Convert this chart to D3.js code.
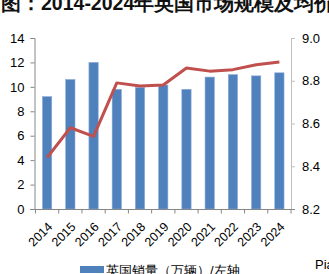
<!DOCTYPE html>
<html><head><meta charset="utf-8">
<script src="https://cdn.jsdelivr.net/npm/d3@7"></script>
<style>
html,body{margin:0;padding:0;background:#fff;overflow:hidden;}
svg{display:block;}
text{font-family:"Liberation Sans",Arial,sans-serif;}
</style></head>
<body>
<script>
const years = ["2014","2015","2016","2017","2018","2019","2020","2021","2022","2023","2024"];
const sales = [9.2, 10.6, 12.0, 9.8, 9.95, 10.15, 9.8, 10.8, 11.0, 10.9, 11.15];
const price = [8.44, 8.58, 8.54, 8.79, 8.775, 8.78, 8.86, 8.845, 8.852, 8.875, 8.888];
const leftTicks = [0,2,4,6,8,10,12,14];
const rightTicks = [8.2,8.4,8.6,8.8,9.0];
const title = "图：2014-2024年英国市场规模及均价";
const legendLabel = "英国销量（万辆）/左轴";
const sourceText = "Pia";

const W = 329, H = 274;
const svg = d3.select("body").append("svg").attr("width", W).attr("height", H);

const x = d3.scaleBand().domain(years).range([35.5, 291]).paddingInner(0).paddingOuter(0);
const yL = d3.scaleLinear().domain([0,14]).range([209, 38]);
const yR = d3.scaleLinear().domain([8.2,9.0]).range([209, 38]);

// title
svg.append("text").attr("x", 1).attr("y", 10).attr("font-size", 19.5).attr("font-weight", "bold")
  .attr("font-family", "'Noto Sans CJK SC', sans-serif").attr("fill", "#111").text(title);

// bars
const bw = x.bandwidth() / 2.5;
svg.append("g").selectAll("rect").data(years).join("rect")
  .attr("x", (d) => x(d) + x.bandwidth()/2 - bw/2)
  .attr("width", bw)
  .attr("y", (d,i) => yL(sales[i]))
  .attr("height", (d,i) => yL(0) - yL(sales[i]))
  .attr("fill", "#4F81BD")
  .attr("stroke", "#8DAAD6").attr("stroke-width", 0.6);

// left axis
const gL = svg.append("g").attr("transform", "translate(34.5,0)")
  .call(d3.axisLeft(yL).tickValues(leftTicks).tickSize(4).tickPadding(6).tickFormat(d3.format("d")));
gL.selectAll("path,line").attr("stroke", "#868686");
gL.selectAll("text").attr("font-size", 13).attr("fill", "#000").attr("font-family", "'Liberation Sans',Arial,sans-serif");

// right axis
const gR = svg.append("g").attr("transform", "translate(291,0)")
  .call(d3.axisRight(yR).tickValues(rightTicks).tickSize(4).tickPadding(7).tickFormat(d3.format(".1f")));
gR.selectAll("path,line").attr("stroke", "#BFBFBF");
gR.selectAll("text").attr("font-size", 13).attr("fill", "#000").attr("font-family", "'Liberation Sans',Arial,sans-serif");

// x axis
const gX = svg.append("g").attr("transform", "translate(0,209.5)");
gX.append("line").attr("x1", 30).attr("x2", 295).attr("stroke", "#868686");
const bounds = years.map(d => x(d)).concat([x(years[years.length-1]) + x.bandwidth()]);
gX.selectAll("line.t").data(bounds).join("line").attr("class","t")
  .attr("x1", d => d).attr("x2", d => d).attr("y1", 0).attr("y2", 4).attr("stroke", "#868686");
gX.selectAll("text").data(years).join("text")
  .attr("transform", d => `translate(${x(d) + x.bandwidth()/2 + 3},${15}) rotate(-45)`)
  .attr("text-anchor", "end").attr("font-size", 12.5).attr("fill", "#000")
  .attr("dy", "0.35em").text(d => d);

// line
const line = d3.line().x((d,i) => x(years[i]) + x.bandwidth()/2).y(d => yR(d));
svg.append("path").datum(price).attr("d", line).attr("fill", "none")
  .attr("stroke", "#C0504D").attr("stroke-width", 3).attr("stroke-linejoin", "round");

// legend
svg.append("rect").attr("x", 80).attr("y", 266).attr("width", 24).attr("height", 7).attr("fill", "#4F81BD");
svg.append("text").attr("x", 106).attr("y", 275).attr("font-size", 13)
  .attr("font-family", "'Noto Sans CJK SC', sans-serif").attr("fill", "#000").text(legendLabel);

// source
svg.append("text").attr("x", 315).attr("y", 269).attr("font-size", 13).attr("fill", "#000").text(sourceText);
</script>
</body></html>
